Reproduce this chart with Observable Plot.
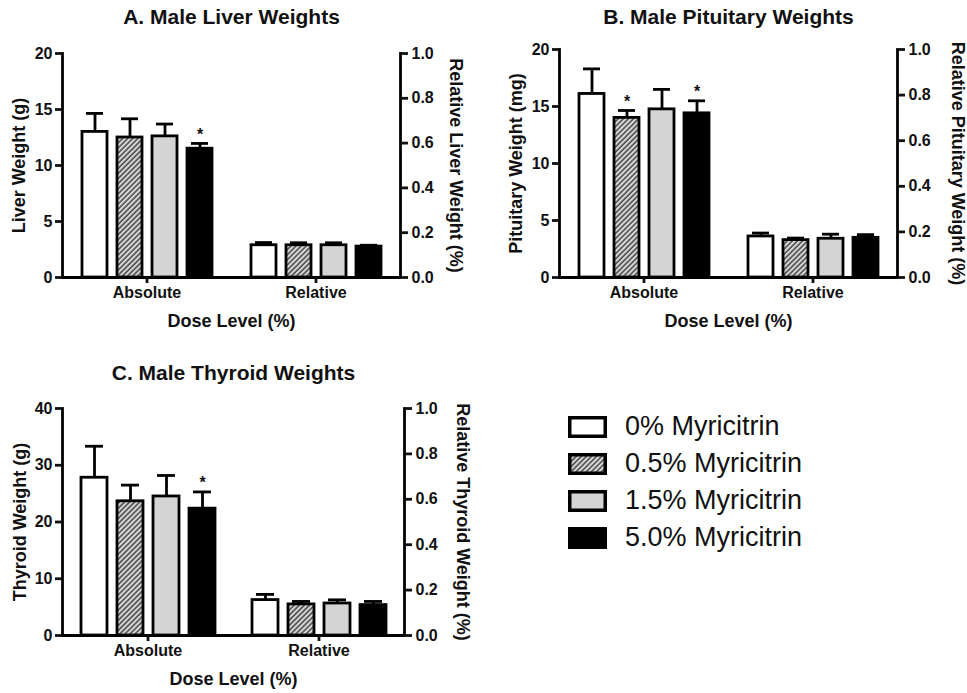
<!DOCTYPE html>
<html>
<head>
<meta charset="utf-8">
<script src="https://cdn.jsdelivr.net/npm/d3@7"></script>
<script src="https://cdn.jsdelivr.net/npm/@observablehq/plot@0.6"></script>
<style>
html, body { margin: 0; padding: 0; background: #fff; }
#page { position: relative; width: 967px; height: 693px; overflow: hidden; font-family: "Liberation Sans", Arial, sans-serif; color: #111; }
.panel { position: absolute; }
.panel svg { overflow: visible; }
#legend { position: absolute; left: 568px; top: 408px; }
.row { display: flex; align-items: center; height: 37px; }
.row span { margin-left: 18px; font-size: 27px; line-height: 1; }
</style>
</head>
<body>
<svg width="0" height="0" style="position:absolute">
  <defs>
    <pattern id="hatch" patternUnits="userSpaceOnUse" width="3.6" height="3.6" patternTransform="rotate(45)">
      <rect width="3.6" height="3.6" fill="#d8d8d8"></rect>
      <line x1="1" y1="0" x2="1" y2="3.6" stroke="#444" stroke-width="1.5"></line>
    </pattern>
  </defs>
</svg>
<div id="page">
  <div class="panel" id="pA" style="left:0px;top:0px;"></div>
  <div class="panel" id="pB" style="left:480px;top:0px;"></div>
  <div class="panel" id="pC" style="left:0px;top:340px;"></div>
  <div id="legend"></div>
</div>
<script>
// ---- shared categories ----
const doses = ["0% Myricitrin", "0.5% Myricitrin", "1.5% Myricitrin", "5.0% Myricitrin"];
const groups = ["Absolute", "Relative"];
const doseFills = ["#ffffff", "url(#hatch)", "#d4d4d4", "#000000"];
const relTicks = [0, 0.2, 0.4, 0.6, 0.8, 1.0];

// ---- A. Liver ----
const liverAbsMean = [13.0, 12.5, 12.6, 11.5];
const liverAbsSem  = [1.65, 1.67, 1.1, 0.47];
const liverAbsSig  = [false, false, false, true];
const liverRelMean = [0.144, 0.144, 0.144, 0.138];
const liverRelSem  = [0.012, 0.011, 0.011, 0.006];
const liverTicks   = [0, 5, 10, 15, 20];

// ---- B. Pituitary ----
const pitAbsMean = [16.1, 14.0, 14.75, 14.4];
const pitAbsSem  = [2.2, 0.65, 1.75, 1.1];
const pitAbsSig  = [false, true, false, true];
const pitRelMean = [0.18, 0.164, 0.17, 0.174];
const pitRelSem  = [0.015, 0.009, 0.02, 0.014];
const pitTicks   = [0, 5, 10, 15, 20];

// ---- C. Thyroid ----
const thyAbsMean = [27.8, 23.65, 24.5, 22.35];
const thyAbsSem  = [5.55, 2.85, 3.7, 2.95];
const thyAbsSig  = [false, false, false, true];
const thyRelMean = [0.156, 0.137, 0.141, 0.134];
const thyRelSem  = [0.025, 0.013, 0.016, 0.016];
const thyTicks   = [0, 10, 20, 30, 40];

const FONT = '"Liberation Sans", Arial, sans-serif';
const SW = 2.8;

function panel(c) {
  const yMax = c.ticks[c.ticks.length - 1];
  const k = yMax / relTicks[relTicks.length - 1];
  const rows = [
    ...doses.map((d, i) => ({group: "Absolute", dose: d, v: c.absMean[i], hi: c.absMean[i] + c.absSem[i], sig: c.absSig[i]})),
    ...doses.map((d, i) => ({group: "Relative", dose: d, v: c.relMean[i] * k, hi: (c.relMean[i] + c.relSem[i]) * k, sig: false}))
  ];
  return Plot.plot({
    width: c.width, height: c.height,
    marginLeft: c.ml, marginRight: c.mr, marginTop: c.mt, marginBottom: c.mb,
    style: {fontFamily: FONT, fontSize: "16px", fontWeight: "bold", color: "#111", background: "transparent", overflow: "visible"},
    fx: {domain: groups, padding: 0, label: null},
    x: {domain: doses, paddingInner: 0.29, paddingOuter: 0.505, axis: null},
    y: {domain: [0, yMax]},
    color: {type: "ordinal", domain: doses, range: doseFills},
    marks: [
      Plot.barY(rows, {fx: "group", x: "dose", y1: 0, y2: "v", fill: "dose", stroke: "#000", strokeWidth: SW}),
      Plot.ruleX(rows, {fx: "group", x: "dose", y1: "v", y2: "hi", stroke: "#000", strokeWidth: SW}),
      Plot.tickY(rows, {fx: "group", x: "dose", y: "hi", stroke: "#000", strokeWidth: SW, insetLeft: 4, insetRight: 4}),
      Plot.text(rows.filter(d => d.sig), {fx: "group", x: "dose", y: "hi", text: () => "*", dy: -9, fontSize: 16}),
      Plot.ruleY([0], {stroke: "#000", strokeWidth: SW}),
      Plot.frame({anchor: "left", facetAnchor: "left", stroke: "#000", strokeWidth: SW}),
      Plot.frame({anchor: "right", facetAnchor: "right", stroke: "#000", strokeWidth: SW}),
      Plot.axisY({anchor: "left", ticks: c.ticks, tickSize: 7, tickPadding: 3, strokeWidth: SW, label: null}),
      Plot.axisY({anchor: "right", ticks: relTicks.map(t => t * k), tickFormat: d => (d / k).toFixed(1), tickSize: 7, tickPadding: 4, strokeWidth: SW, label: null}),
      Plot.axisFx({anchor: "bottom", tickSize: 6, tickPadding: 3, strokeWidth: SW, label: null}),
      Plot.text([c.title], {fx: () => "Absolute", text: d => d, frameAnchor: "top-right", textAnchor: "middle", lineAnchor: "middle", dy: c.titleDy, fontSize: 21}),
      Plot.text(["Dose Level (%)"], {fx: () => "Absolute", text: d => d, frameAnchor: "bottom-right", textAnchor: "middle", lineAnchor: "middle", dy: 44, fontSize: 18}),
      Plot.text([c.yLabel], {fx: () => "Absolute", text: d => d, frameAnchor: "left", textAnchor: "middle", lineAnchor: "middle", rotate: -90, dx: c.lDx, fontSize: 18}),
      Plot.text([c.rLabel], {fx: () => "Relative", text: d => d, frameAnchor: "right", textAnchor: "middle", lineAnchor: "middle", rotate: 90, dx: c.rDx, fontSize: 18})
    ]
  });
}

document.getElementById("pA").appendChild(panel({
  title: "A. Male Liver Weights", yLabel: "Liver Weight (g)", rLabel: "Relative Liver Weight (%)",
  ticks: liverTicks, absMean: liverAbsMean, absSem: liverAbsSem, absSig: liverAbsSig, relMean: liverRelMean, relSem: liverRelSem,
  width: 480, height: 335, ml: 62, mr: 80, mt: 53, mb: 58, titleDy: -36, lDx: -43, rDx: 55
}));
document.getElementById("pB").appendChild(panel({
  title: "B. Male Pituitary Weights", yLabel: "Pituitary Weight (mg)", rLabel: "Relative Pituitary Weight (%)",
  ticks: pitTicks, absMean: pitAbsMean, absSem: pitAbsSem, absSig: pitAbsSig, relMean: pitRelMean, relSem: pitRelSem,
  width: 487, height: 335, ml: 78, mr: 70, mt: 49, mb: 58, titleDy: -32, lDx: -43, rDx: 60
}));
document.getElementById("pC").appendChild(panel({
  title: "C. Male Thyroid Weights", yLabel: "Thyroid Weight (g)", rLabel: "Relative Thyroid Weight (%)",
  ticks: thyTicks, absMean: thyAbsMean, absSem: thyAbsSem, absSig: thyAbsSig, relMean: thyRelMean, relSem: thyRelSem,
  width: 480, height: 353, ml: 62, mr: 76, mt: 68, mb: 58, titleDy: -35, lDx: -42, rDx: 58
}));

// ---- legend ----
const legend = document.getElementById("legend");
doses.forEach((d, i) => {
  const row = document.createElement("div");
  row.className = "row";
  row.innerHTML = `<svg width="39" height="22"><rect x="1.75" y="1.75" width="35.5" height="18.5" fill="${doseFills[i]}" stroke="#000" stroke-width="3.5"></rect></svg><span>${d}</span>`;
  legend.appendChild(row);
});
</script>
</body>
</html>
